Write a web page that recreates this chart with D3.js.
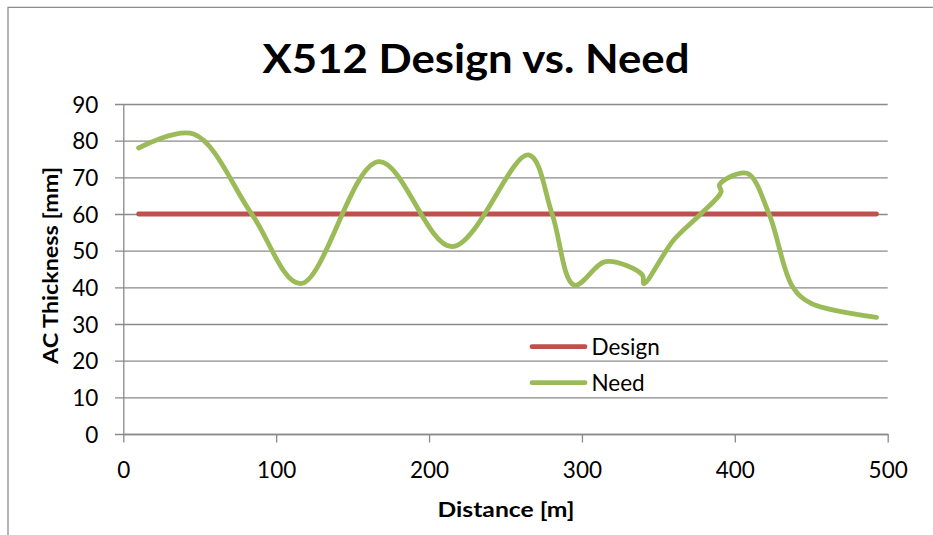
<!DOCTYPE html>
<html>
<head>
<meta charset="utf-8">
<script src="https://cdn.jsdelivr.net/npm/d3@7"></script>
<style>
  html, body { margin: 0; padding: 0; background: #fff; }
  svg { display: block; }
  text { font-family: Lato, "Open Sans", "DejaVu Sans", sans-serif; fill: #000; }
</style>
</head>
<body>
<svg id="chart" width="933" height="535"></svg>
<script>
// Distance along the section [m] and the required asphalt thickness [mm]
const needDistance = [10, 46, 84, 116, 167, 215, 265, 280.5, 295, 315.5,
                      339.5, 340.5, 360, 377.7, 391, 390, 408, 422.4, 437.7, 450, 492.7];
const needThickness = [78, 81.8, 60, 41, 74.3, 51.1, 76.1, 60, 40.6, 47,
                       43.4, 41, 52.9, 60, 66, 68, 71.1, 60, 40.2, 35.6, 31.8];

// Design thickness is constant along the whole section
const designDistance = [10, 492.7];
const designThickness = [60, 60];

const xTicks = [0, 100, 200, 300, 400, 500];
const yTicks = [0, 10, 20, 30, 40, 50, 60, 70, 80, 90];

const titleText = "X512 Design vs. Need";
const xTitle = "Distance [m]";
const yTitle = "AC Thickness [mm]";
const seriesNames = ["Design", "Need"];
const seriesColors = ["#C0504D", "#9BBB59"];

const svg = d3.select("#chart");
const gridColor = "#8a8a8a";

const x = d3.scaleLinear().domain([0, 500]).range([123.3, 887.7]);
const y = d3.scaleLinear().domain([0, 90]).range([434, 104]);

// Outer chart frame (runs off the bottom and right of the page)
svg.append("path")
  .attr("d", "M8,540 L8,7.3 L940,7.3")
  .attr("fill", "none")
  .attr("stroke", "#8c8c8c")
  .attr("stroke-width", 1.3);

// Horizontal gridlines with their outer tick stubs
const yAxis = d3.axisLeft(y).tickValues(yTicks).tickSize(-(x.range()[1] - x.range()[0])).tickSizeOuter(0).tickPadding(25).tickFormat(d3.format("d"));
const gy = svg.append("g").attr("transform", `translate(${x.range()[0]},0)`).call(yAxis);
gy.select(".domain").attr("stroke", gridColor).attr("stroke-width", 1.3);
gy.selectAll(".tick line").attr("stroke", gridColor).attr("stroke-width", 1.4).attr("x1", -8.3);
gy.selectAll(".tick text").attr("font-size", 22.5).attr("dy", "0.36em").attr("x", -25);

// Bottom axis
const xAxis = d3.axisBottom(x).tickValues(xTicks).tickSize(8.5).tickSizeOuter(0).tickPadding(18).tickFormat(d3.format("d"));
const gx = svg.append("g").attr("transform", `translate(0,${y(0)})`).call(xAxis);
gx.select(".domain").attr("stroke", gridColor).attr("stroke-width", 1.4);
gx.selectAll(".tick line").attr("stroke", gridColor).attr("stroke-width", 1.3);
gx.selectAll(".tick text").attr("font-size", 22.5).attr("dy", 0).attr("y", 44);

// Series
const line = d3.line().x(d => x(d[0])).y(d => y(d[1]));

svg.append("path")
  .datum(d3.zip(designDistance, designThickness))
  .attr("d", line)
  .attr("fill", "none")
  .attr("stroke", seriesColors[0])
  .attr("stroke-width", 4.8)
  .attr("stroke-linecap", "round");

svg.append("path")
  .datum(d3.zip(needDistance, needThickness))
  .attr("d", line.curve(d3.curveCatmullRom.alpha(0.5)))
  .attr("fill", "none")
  .attr("stroke", seriesColors[1])
  .attr("stroke-width", 4.8)
  .attr("stroke-linecap", "round")
  .attr("stroke-linejoin", "round");

// Legend
const legend = svg.append("g");
seriesNames.forEach((name, i) => {
  const ly = 346.7 + i * 36;
  legend.append("line")
    .attr("x1", 532).attr("x2", 585)
    .attr("y1", ly).attr("y2", ly)
    .attr("stroke", seriesColors[i])
    .attr("stroke-width", 4.8)
    .attr("stroke-linecap", "round");
  legend.append("text")
    .attr("x", 591.5).attr("y", ly + 8.3)
    .attr("font-size", 22.5)
    .text(name);
});

// Titles
svg.append("text")
  .attr("x", 476).attr("y", 72.7)
  .attr("text-anchor", "middle")
  .attr("font-size", 41).attr("font-weight", 700)
  .attr("textLength", 427).attr("lengthAdjust", "spacingAndGlyphs")
  .text(titleText);

svg.append("text")
  .attr("x", 506).attr("y", 517)
  .attr("text-anchor", "middle")
  .attr("font-size", 20.5).attr("font-weight", 700)
  .attr("textLength", 137).attr("lengthAdjust", "spacingAndGlyphs")
  .text(xTitle);

svg.append("text")
  .attr("transform", "translate(57.5,265.5) rotate(-90)")
  .attr("text-anchor", "middle")
  .attr("font-size", 20.5).attr("font-weight", 700)
  .attr("textLength", 197).attr("lengthAdjust", "spacingAndGlyphs")
  .text(yTitle);
</script>
</body>
</html>
